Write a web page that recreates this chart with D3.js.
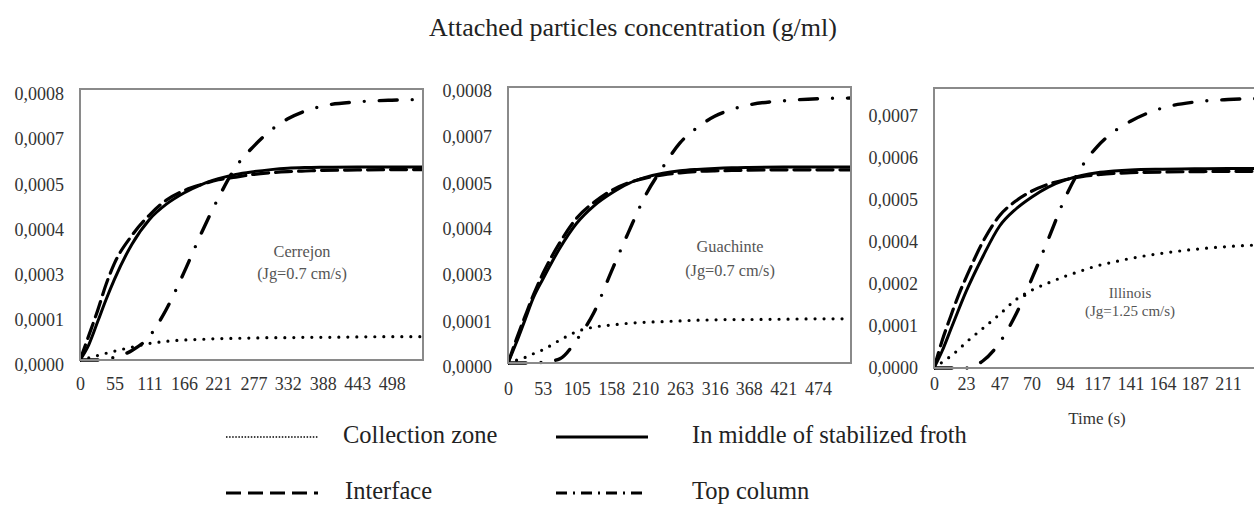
<!DOCTYPE html>
<html>
<head>
<meta charset="utf-8">
<script src="https://cdn.jsdelivr.net/npm/d3@7"></script>
<style>
  body { margin: 0; background: #fff; }
  svg text { font-family: "Liberation Serif", "DejaVu Serif", serif; }
  .tick text { fill: #333; font-size: 18px; }
  .note { fill: #555; text-anchor: middle; }
  .legend-text { font-size: 24.5px; fill: #222; }
</style>
</head>
<body>
<svg id="chart" width="1254" height="508"></svg>
<script>
// Cerrejon
const cerrejonTime = [0, 14, 28, 42, 55, 83, 111, 138, 166, 194, 221, 249, 277, 305, 332, 360, 388, 443, 498, 548];
const cerrejonCollection = [0, 0.000006, 0.000013, 0.00002, 0.000026, 0.000038, 0.000049, 0.000055, 0.000059, 0.000061, 0.000063, 0.000064, 0.000065, 0.000066, 0.000066, 0.000067, 0.000067, 0.000068, 0.000069, 0.000069];
const cerrejonMiddle = [0, 0.000045, 0.000112, 0.00018, 0.000238, 0.000342, 0.000415, 0.00046, 0.000493, 0.000518, 0.000535, 0.000548, 0.000556, 0.000562, 0.000566, 0.000568, 0.000569, 0.00057, 0.00057, 0.00057];
const cerrejonInterface = [0, 0.000072, 0.000145, 0.000225, 0.000285, 0.000368, 0.000428, 0.000472, 0.0005, 0.000518, 0.000532, 0.00054, 0.000548, 0.000553, 0.000556, 0.000558, 0.00056, 0.000561, 0.000562, 0.000562];
const cerrejonTop = [0, 0, 0, 0.000003, 0.000008, 0.000028, 0.00007, 0.00015, 0.000258, 0.000375, 0.000478, 0.00057, 0.00063, 0.000678, 0.000712, 0.000735, 0.00075, 0.000762, 0.000767, 0.000769];
const cerrejonXLabels = [0, 55, 111, 166, 221, 277, 332, 388, 443, 498];

// Guachinte
const guachinteTime = [0, 13, 26, 39, 53, 79, 105, 131, 158, 184, 210, 237, 263, 289, 316, 342, 368, 421, 474, 524];
const guachinteCollection = [0, 0.000008, 0.000016, 0.000027, 0.000038, 0.000066, 0.000091, 0.000104, 0.00011, 0.000115, 0.000118, 0.00012, 0.000122, 0.000124, 0.000125, 0.000126, 0.000126, 0.000127, 0.000128, 0.000128];
const guachinteMiddle = [0, 0.00006, 0.000125, 0.00019, 0.000242, 0.000332, 0.000405, 0.000455, 0.000492, 0.00052, 0.000538, 0.00055, 0.000557, 0.000561, 0.000564, 0.000566, 0.000567, 0.000568, 0.000568, 0.000568];
const guachinteInterface = [0, 0.00007, 0.000135, 0.000198, 0.000258, 0.000348, 0.00042, 0.000465, 0.0005, 0.000522, 0.000536, 0.000545, 0.000551, 0.000555, 0.000557, 0.000558, 0.000559, 0.00056, 0.00056, 0.00056];
const guachinteTop = [0, 0, 0, 0, 0.000002, 0.000012, 0.000067, 0.000145, 0.000265, 0.000378, 0.000485, 0.000568, 0.000638, 0.000682, 0.000715, 0.000735, 0.000748, 0.00076, 0.000766, 0.000768];
const guachinteXLabels = [0, 53, 105, 158, 210, 263, 316, 368, 421, 474];

// Illinois
const illinoisTime = [0, 6, 12, 18, 23, 35, 47, 59, 70, 82, 94, 106, 117, 129, 141, 164, 187, 211, 235];
const illinoisCollection = [0, 0.000017, 0.000034, 0.000054, 0.000073, 0.000113, 0.000153, 0.000196, 0.000222, 0.000243, 0.000262, 0.000278, 0.000292, 0.000303, 0.000313, 0.000328, 0.000339, 0.000347, 0.000352];
const illinoisMiddle = [0, 0.00005, 0.00011, 0.00017, 0.000218, 0.000318, 0.000405, 0.000455, 0.000488, 0.000517, 0.000537, 0.00055, 0.000558, 0.000563, 0.000566, 0.000568, 0.000569, 0.00057, 0.00057];
const illinoisInterface = [0, 0.00008, 0.000148, 0.000212, 0.000258, 0.00036, 0.000435, 0.000478, 0.000505, 0.000525, 0.000538, 0.000547, 0.000552, 0.000556, 0.000558, 0.00056, 0.000561, 0.000562, 0.000562];
const illinoisTop = [0, 0, 0, 0, 0, 0.00002, 0.000072, 0.000155, 0.000253, 0.000368, 0.000485, 0.000575, 0.000632, 0.000675, 0.000705, 0.000743, 0.00076, 0.000767, 0.00077];
const illinoisXLabels = [0, 23, 47, 70, 94, 117, 141, 164, 187, 211];

const yTicksA = [0, 0.000133, 0.000267, 0.0004, 0.000533, 0.000667, 0.0008];
const yTicksB = [0, 0.00012, 0.00024, 0.00036, 0.00048, 0.0006, 0.00072];

const seriesNames = ["Collection zone", "In middle of stabilized froth", "Interface", "Top column"];

const styles = {
  "Collection zone": { dash: "0 9", width: 3.2 },
  "In middle of stabilized froth": { dash: null, width: 3 },
  "Interface": { dash: "16 7", width: 3.2 },
  "Top column": { dash: "18 15 0 15", width: 3.4 }
};

const panels = [
  { name: "Cerrejon", note: "(Jg=0.7 cm/s)", noteSize: 16.3, noteX: 302, noteY: 253, noteGap: 22,
    left: 80, right: 423, top: 89, bottom: 360, tMax: 548, labelOff: 23, yDy: "0.6em",
    time: cerrejonTime, xLabels: cerrejonXLabels, yTicks: yTicksA,
    series: [cerrejonCollection, cerrejonMiddle, cerrejonInterface, cerrejonTop] },
  { name: "Guachinte", note: "(Jg=0.7 cm/s)", noteSize: 16.3, noteX: 730, noteY: 248, noteGap: 24,
    left: 508, right: 851, top: 87, bottom: 363, tMax: 524.5, labelOff: 25, yDy: "0.55em",
    time: guachinteTime, xLabels: guachinteXLabels, yTicks: yTicksA,
    series: [guachinteCollection, guachinteMiddle, guachinteInterface, guachinteTop] },
  { name: "Illinois", note: "(Jg=1.25 cm/s)", noteSize: 15, noteX: 1130, noteY: 295, noteGap: 18,
    left: 934, right: 1262, top: 88, bottom: 368, tMax: 235.4, labelOff: 15, yDy: "0.32em",
    time: illinoisTime, xLabels: illinoisXLabels, yTicks: yTicksB,
    series: [illinoisCollection, illinoisMiddle, illinoisInterface, illinoisTop] }
];

const serif = '"Liberation Serif", "DejaVu Serif", serif';
const svg = d3.select("#chart");
const yFormat = v => d3.format(".4f")(v).replace(".", ",");

svg.append("text").attr("x", 633).attr("y", 30).attr("text-anchor", "middle")
  .attr("dominant-baseline", "middle").style("font-family", serif).style("font-size", "26px").style("fill", "#222")
  .text("Attached particles concentration (g/ml)");

panels.forEach(p => {
  let x = d3.scaleLinear().domain([0, p.tMax]).range([p.left, p.right]);
  let y = d3.scaleLinear().domain([0, 0.0008]).range([p.bottom, p.top]);
  let g = svg.append("g");

  let yAxis = g.append("g").attr("transform", "translate(" + p.left + ",0)")
    .call(d3.axisLeft(y).tickValues(p.yTicks).tickFormat(yFormat).tickSize(0).tickPadding(16));
  yAxis.select(".domain").remove();
  yAxis.selectAll("text").attr("dy", p.yDy).style("font-family", serif);

  let xAxis = g.append("g").attr("transform", "translate(0," + p.bottom + ")")
    .call(d3.axisBottom(x).tickValues(p.xLabels).tickFormat(d3.format("d")).tickSize(0).tickPadding(p.labelOff - 6));
  xAxis.select(".domain").remove();
  xAxis.selectAll("text").style("font-family", serif);

  let clipId = "clip-" + p.name;
  svg.append("clipPath").attr("id", clipId).append("rect")
    .attr("x", p.left).attr("y", p.top - 5).attr("width", p.right - p.left).attr("height", p.bottom - p.top + 10);

  let line = d3.line().x(d => x(d[0])).y(d => y(d[1])).curve(d3.curveMonotoneX);
  let order = [0, 3, 2, 1];
  order.forEach(i => {
    let pts = p.time.map((t, k) => [t, p.series[i][k]]);
    let st = styles[seriesNames[i]];
    g.append("path").datum(pts).attr("d", line).attr("clip-path", "url(#" + clipId + ")")
      .attr("fill", "none").attr("stroke", "#000").attr("stroke-width", st.width)
      .attr("stroke-linecap", "round").attr("stroke-dasharray", st.dash);
  });

  g.append("rect").attr("x", p.left).attr("y", p.top).attr("width", p.right - p.left).attr("height", p.bottom - p.top)
    .attr("fill", "none").attr("stroke", "#8a8a8a").attr("stroke-width", 2);

  g.append("text").attr("class", "note").attr("x", p.noteX).attr("y", p.noteY).attr("dominant-baseline", "middle")
    .style("font-family", serif).style("font-size", p.noteSize + "px").text(p.name);
  g.append("text").attr("class", "note").attr("x", p.noteX).attr("y", p.noteY + p.noteGap).attr("dominant-baseline", "middle")
    .style("font-family", serif).style("font-size", p.noteSize + "px").text(p.note);
});

svg.append("text").attr("x", 1097).attr("y", 420).attr("text-anchor", "middle")
  .attr("dominant-baseline", "middle").style("font-family", serif).style("font-size", "17px").style("fill", "#333").text("Time (s)");

// legend
const legendItems = [
  { name: "Collection zone", x: 226, y: 437, dash: "1.5 1.6", width: 1.6, textX: 343 },
  { name: "In middle of stabilized froth", x: 556, y: 437, dash: null, width: 3, textX: 692 },
  { name: "Interface", x: 226, y: 493, dash: "15 7", width: 3, textX: 345 },
  { name: "Top column", x: 556, y: 493, dash: "11 6 2 6", width: 3, textX: 692 }
];
legendItems.forEach(item => {
  svg.append("line").attr("x1", item.x).attr("x2", item.x + 92).attr("y1", item.y).attr("y2", item.y)
    .attr("stroke", "#000").attr("stroke-width", item.width).attr("stroke-dasharray", item.dash);
  svg.append("text").attr("class", "legend-text").attr("x", item.textX).attr("y", item.y)
    .attr("dominant-baseline", "middle").style("font-family", serif).text(item.name);
});
</script>
</body>
</html>
